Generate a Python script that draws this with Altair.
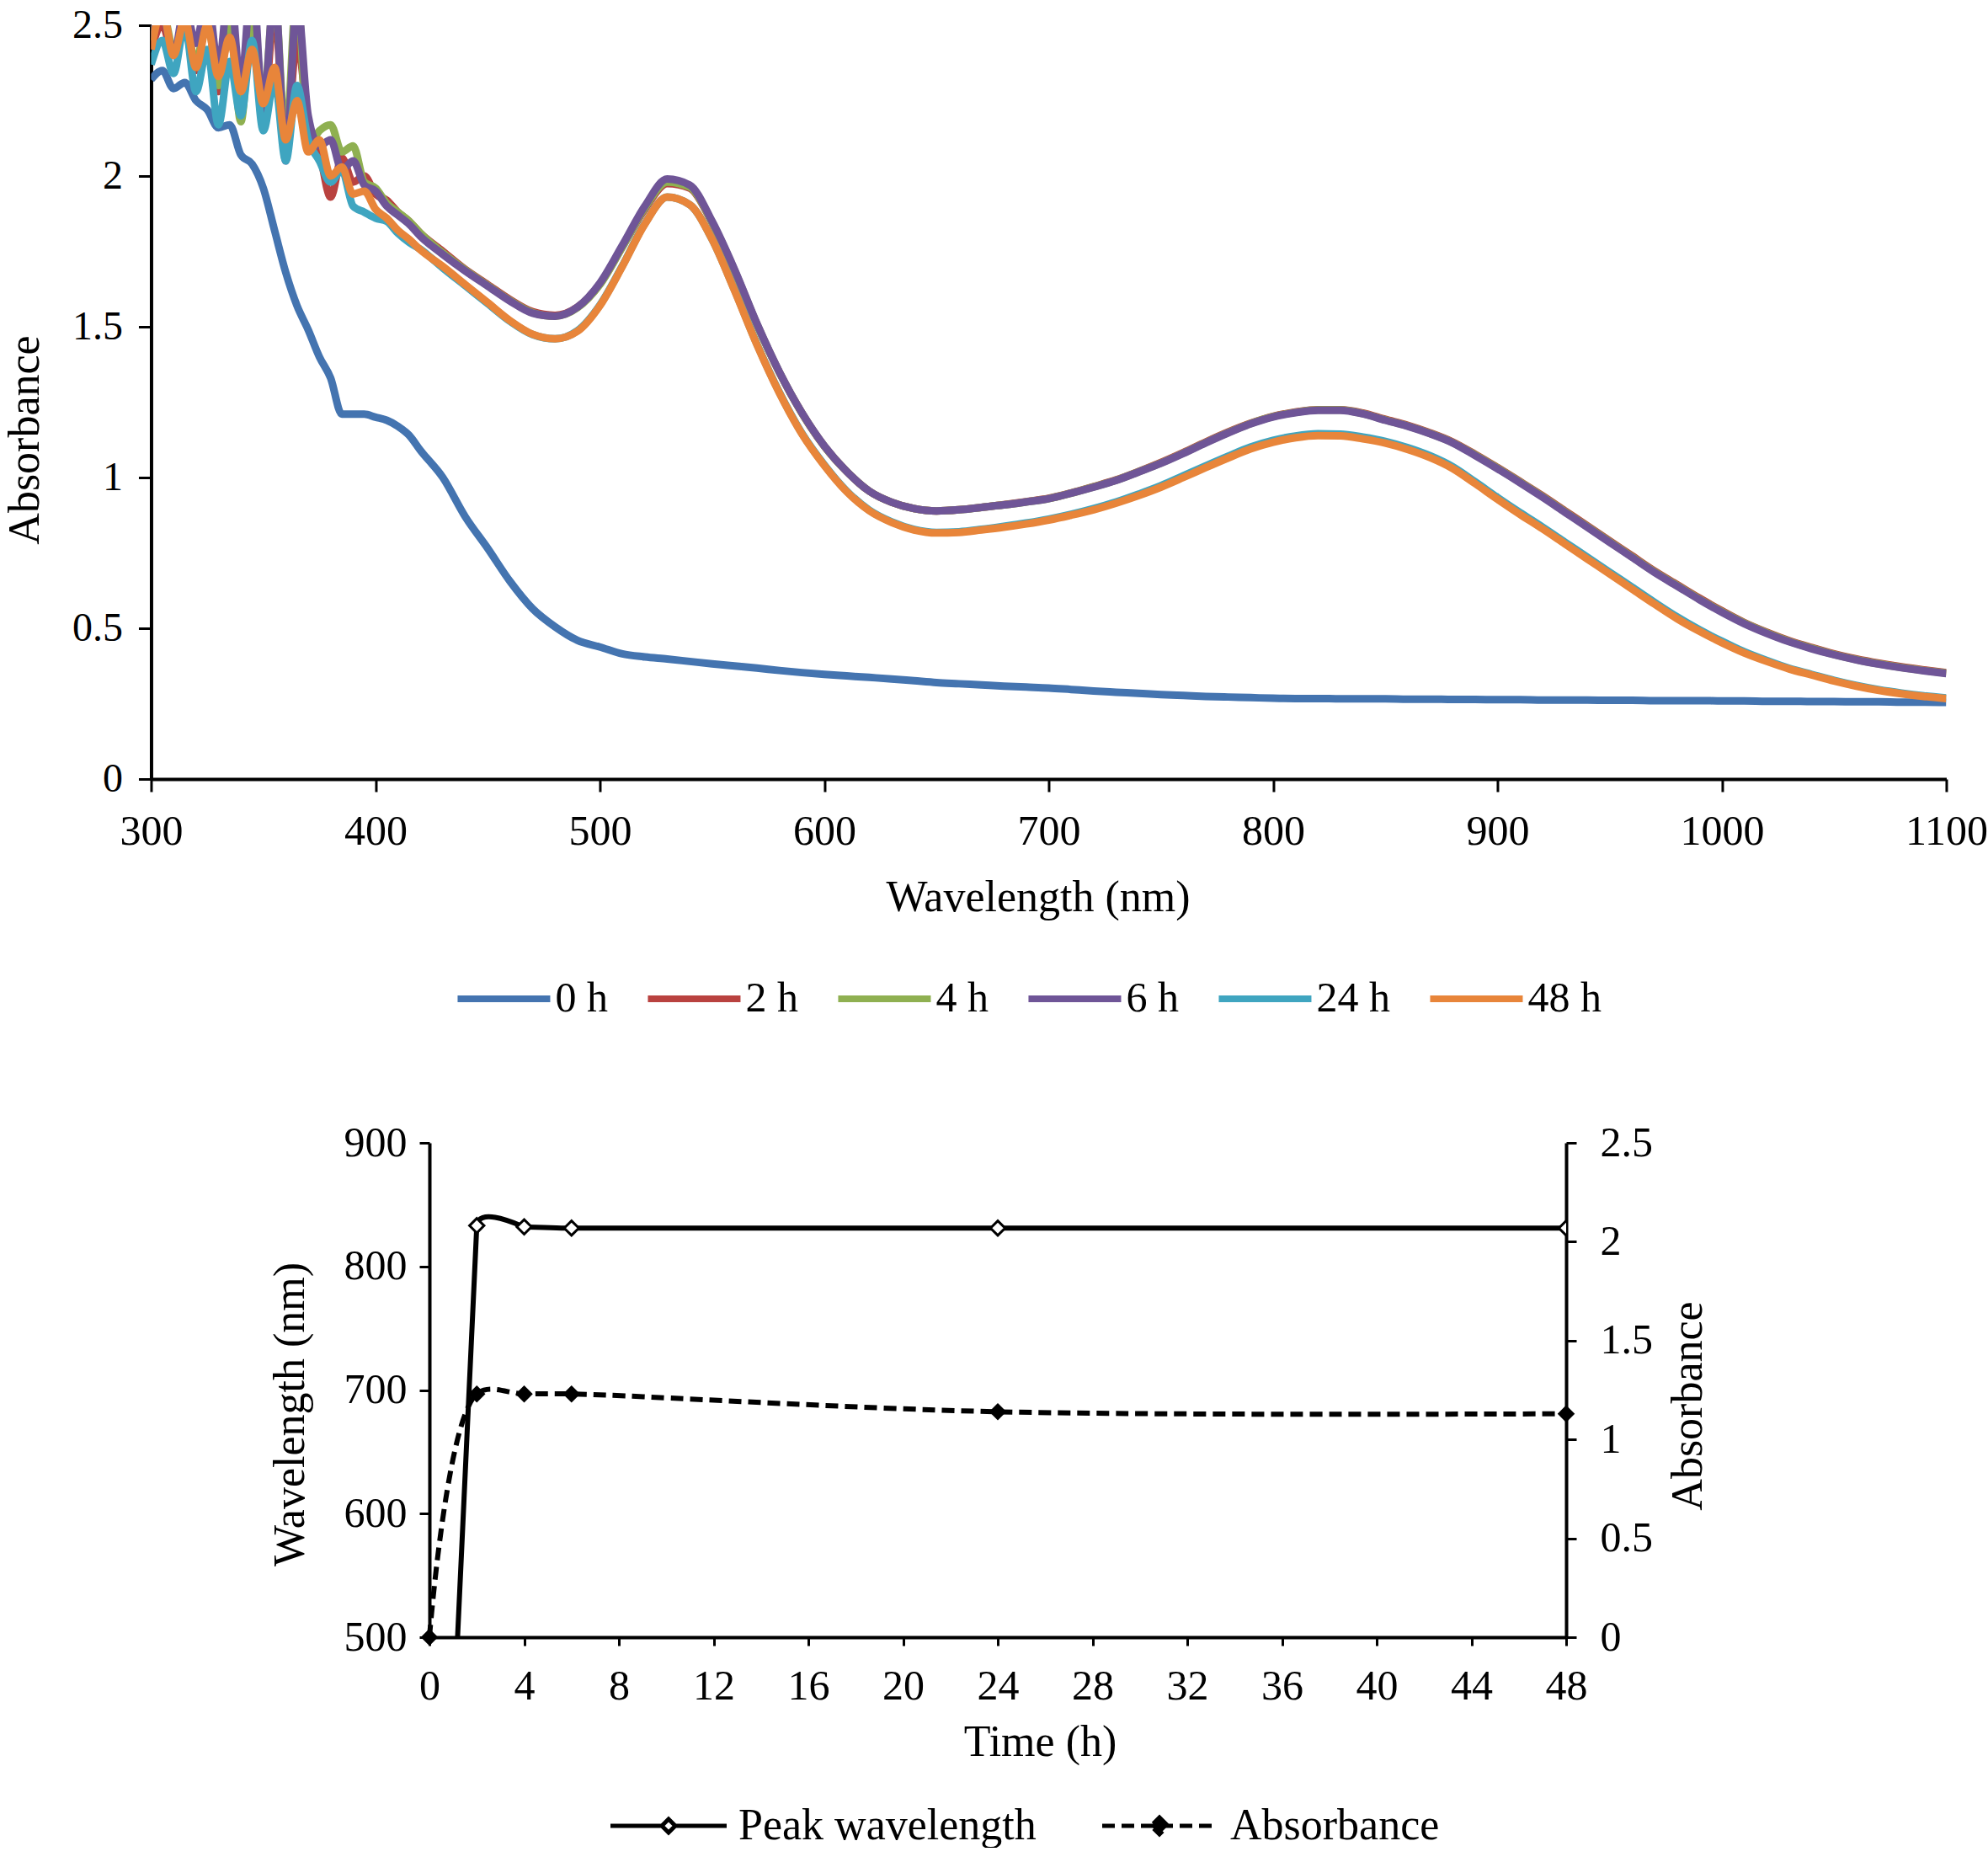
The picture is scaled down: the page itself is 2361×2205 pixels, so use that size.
import altair as alt
import pandas as pd

FONT = "Liberation Serif"

# ---------------- top panel: UV-vis-NIR spectra ----------------
WAVELENGTH = [300, 305, 310, 315, 320, 325, 330, 335, 340, 345, 350, 355, 360, 365, 370, 375,
              380, 385, 390, 395, 400, 405, 410, 415,
              420, 430, 440, 450, 460, 470, 480, 490, 500, 510, 520, 530, 540, 550, 560, 570,
              580, 590, 600, 610, 620, 630, 640, 650, 660, 670, 680, 690, 700, 710, 720, 730,
              740, 750, 760, 770, 780, 790, 800, 810, 820, 830, 840, 850, 860, 870, 880, 890,
              900, 910, 920, 930, 940, 950, 960, 970, 980, 990, 1000, 1010, 1020, 1030, 1040,
              1050, 1060, 1070, 1080, 1090, 1100]

ABS_0H = [2.32, 2.35, 2.29, 2.31, 2.25, 2.22, 2.16, 2.17, 2.07, 2.04, 1.96, 1.82, 1.68, 1.57, 1.49, 1.40,
          1.33, 1.21, 1.21, 1.21, 1.20, 1.19, 1.17, 1.14,
          1.09, 1.00, 0.87, 0.765, 0.655, 0.565, 0.505, 0.46, 0.438, 0.415, 0.405, 0.398, 0.39, 0.382, 0.375, 0.368,
          0.36, 0.353, 0.347, 0.342, 0.337, 0.332, 0.326, 0.32, 0.316, 0.312, 0.308, 0.305, 0.302, 0.297, 0.292, 0.288,
          0.284, 0.28, 0.277, 0.274, 0.272, 0.27, 0.268, 0.267, 0.267, 0.266, 0.266, 0.266, 0.265, 0.265, 0.264, 0.264,
          0.263, 0.263, 0.262, 0.262, 0.262, 0.261, 0.261, 0.26, 0.26, 0.26, 0.259, 0.259, 0.258, 0.258, 0.257,
          0.257, 0.256, 0.256, 0.255, 0.255, 0.254]

ABS_2H = [2.42, 2.50, 2.40, 2.52, 2.35, 2.55, 2.28, 2.58, 2.25, 2.60, 2.20, 2.55, 2.10, 2.45, 2.18, 2.08,
          1.93, 2.06, 1.98, 2.00, 1.94, 1.92, 1.88, 1.85,
          1.81, 1.75, 1.69, 1.64, 1.59, 1.55, 1.538, 1.565, 1.642, 1.765, 1.89, 1.975, 1.96, 1.845, 1.685, 1.507,
          1.348, 1.214, 1.104, 1.02, 0.955, 0.918, 0.897, 0.889, 0.893, 0.901, 0.91, 0.92, 0.931, 0.949, 0.97, 0.992,
          1.02, 1.05, 1.083, 1.118, 1.151, 1.18, 1.203, 1.217, 1.225, 1.225, 1.214, 1.193, 1.173, 1.148, 1.118, 1.077,
          1.033, 0.987, 0.94, 0.89, 0.84, 0.79, 0.74, 0.69, 0.645, 0.6, 0.558, 0.519, 0.487, 0.459, 0.436,
          0.415, 0.398, 0.384, 0.372, 0.362, 0.353]

ABS_4H = [2.45, 2.55, 2.42, 2.50, 2.38, 2.52, 2.30, 2.50, 2.18, 2.55, 2.25, 2.60, 2.12, 2.62, 2.10, 2.15,
          2.17, 2.08, 2.10, 1.98, 1.96, 1.91, 1.88, 1.85,
          1.81, 1.745, 1.688, 1.637, 1.587, 1.547, 1.535, 1.563, 1.64, 1.765, 1.895, 1.98, 1.963, 1.847, 1.687, 1.508,
          1.349, 1.214, 1.104, 1.02, 0.955, 0.918, 0.897, 0.889, 0.893, 0.901, 0.909, 0.919, 0.93, 0.948, 0.969, 0.991,
          1.019, 1.048, 1.081, 1.116, 1.149, 1.179, 1.202, 1.216, 1.224, 1.224, 1.212, 1.191, 1.171, 1.146, 1.116, 1.075,
          1.031, 0.985, 0.937, 0.887, 0.837, 0.787, 0.737, 0.687, 0.642, 0.597, 0.555, 0.517, 0.485, 0.457, 0.434,
          0.413, 0.396, 0.382, 0.37, 0.36, 0.351]

ABS_6H = [2.46, 2.54, 2.40, 2.56, 2.44, 2.60, 2.36, 2.64, 2.30, 2.66, 2.22, 2.62, 2.05, 2.58, 2.20, 2.10,
          2.12, 2.02, 2.05, 1.97, 1.95, 1.90, 1.87, 1.84,
          1.80, 1.74, 1.685, 1.635, 1.585, 1.545, 1.535, 1.565, 1.645, 1.77, 1.90, 1.99, 1.97, 1.85, 1.69, 1.51,
          1.35, 1.215, 1.105, 1.02, 0.955, 0.918, 0.897, 0.889, 0.893, 0.901, 0.909, 0.919, 0.93, 0.948, 0.968, 0.99,
          1.018, 1.047, 1.08, 1.115, 1.148, 1.178, 1.201, 1.215, 1.223, 1.223, 1.211, 1.19, 1.17, 1.145, 1.115, 1.073,
          1.029, 0.983, 0.935, 0.885, 0.835, 0.785, 0.735, 0.685, 0.64, 0.595, 0.553, 0.515, 0.483, 0.455, 0.432,
          0.412, 0.395, 0.381, 0.369, 0.359, 0.35]

ABS_24H = [2.37, 2.45, 2.34, 2.50, 2.28, 2.42, 2.17, 2.38, 2.20, 2.45, 2.15, 2.32, 2.05, 2.30, 2.12, 2.05,
           1.98, 2.02, 1.90, 1.88, 1.86, 1.85, 1.81, 1.78,
           1.757, 1.695, 1.636, 1.577, 1.518, 1.474, 1.46, 1.487, 1.572, 1.702, 1.842, 1.93, 1.905, 1.79, 1.622, 1.442,
           1.282, 1.147, 1.042, 0.955, 0.892, 0.853, 0.828, 0.818, 0.82, 0.828, 0.838, 0.849, 0.862, 0.878, 0.897, 0.919,
           0.945, 0.973, 1.006, 1.039, 1.071, 1.101, 1.123, 1.138, 1.145, 1.144, 1.134, 1.12, 1.099, 1.072, 1.036, 0.986,
           0.934, 0.884, 0.836, 0.786, 0.736, 0.686, 0.636, 0.586, 0.538, 0.495, 0.457, 0.422, 0.393, 0.367, 0.347,
           0.327, 0.31, 0.296, 0.285, 0.276, 0.269]

ABS_48H = [2.42, 2.55, 2.40, 2.52, 2.36, 2.50, 2.33, 2.46, 2.28, 2.42, 2.24, 2.36, 2.12, 2.25, 2.08, 2.12,
           2.00, 2.03, 1.94, 1.95, 1.89, 1.86, 1.82, 1.79,
           1.755, 1.70, 1.64, 1.58, 1.52, 1.475, 1.46, 1.485, 1.57, 1.70, 1.84, 1.93, 1.905, 1.79, 1.62, 1.44,
           1.28, 1.145, 1.04, 0.953, 0.89, 0.851, 0.826, 0.816, 0.818, 0.826, 0.835, 0.846, 0.859, 0.875, 0.893, 0.915,
           0.94, 0.968, 1.0, 1.033, 1.065, 1.095, 1.117, 1.132, 1.139, 1.138, 1.128, 1.114, 1.093, 1.066, 1.03, 0.98,
           0.928, 0.878, 0.83, 0.78, 0.73, 0.68, 0.63, 0.58, 0.532, 0.49, 0.452, 0.418, 0.39, 0.365, 0.345,
           0.325, 0.308, 0.294, 0.283, 0.274, 0.267]

SERIES_NAMES = ["0 h", "2 h", "4 h", "6 h", "24 h", "48 h"]
SERIES_COLORS = ["#4474B0", "#B9423F", "#8FB051", "#6F5597", "#3FA5C0", "#E8853A"]
SERIES_VALUES = [ABS_0H, ABS_2H, ABS_4H, ABS_6H, ABS_24H, ABS_48H]

TOP_X_TICKS = [300, 400, 500, 600, 700, 800, 900, 1000, 1100]
TOP_Y_TICKS = [0, 0.5, 1, 1.5, 2, 2.5]

# ---------------- bottom panel: kinetics ----------------
TIME_H = [0, 2, 4, 6, 24, 48]
PEAK_NM = [0, 833, 832, 831, 831, 831]
PEAK_ABS = [0, 1.23, 1.23, 1.23, 1.14, 1.13]

BOT_X_TICKS = [0, 4, 8, 12, 16, 20, 24, 28, 32, 36, 40, 44, 48]
BOT_YL_TICKS = [500, 600, 700, 800, 900]
BOT_YR_TICKS = [0, 0.5, 1, 1.5, 2, 2.5]

for vals in SERIES_VALUES:
    assert len(vals) == len(WAVELENGTH), len(vals)

rows = []
for name, vals in zip(SERIES_NAMES, SERIES_VALUES):
    for w, a in zip(WAVELENGTH, vals):
        rows.append({"wl": w, "A": a, "series": name})
spec_df = pd.DataFrame(rows)

axis_common = dict(domainColor="black", tickColor="black", labelColor="black", titleColor="black",
                   labelFont=FONT, titleFont=FONT, titleFontWeight="normal", grid=False,
                   labelOverlap=False, labelFlush=False)

x_top = alt.X("wl:Q", scale=alt.Scale(domain=[300, 1100], nice=False, zero=False),
              axis=alt.Axis(values=TOP_X_TICKS, format="d", title="Wavelength (nm)",
                            labelFontSize=50, titleFontSize=52, tickSize=15, tickWidth=3,
                            domainWidth=4, labelPadding=22, titleX=1053, titleY=156,
                            titleBaseline="alphabetic", titleAlign="center", **axis_common))
y_top = alt.Y("A:Q", scale=alt.Scale(domain=[0, 2.5], nice=False),
              axis=alt.Axis(values=TOP_Y_TICKS, format="~g", title="Absorbance",
                            labelFontSize=48, titleFontSize=52, tickSize=15, tickWidth=3,
                            domainWidth=4, labelPadding=19, titleX=-134, titleY=492, titleAngle=270,
                            titleBaseline="alphabetic", titleAlign="center", **axis_common))

color_scale = alt.Scale(domain=SERIES_NAMES, range=SERIES_COLORS)
top_legend = alt.Legend(title=None, orient="none", direction="horizontal", columns=6,
                        legendX=360, legendY=1097, symbolType="stroke", symbolSize=12100,
                        symbolStrokeWidth=8, labelFont=FONT, labelFontSize=50, labelColor="black",
                        labelOffset=2, columnPadding=31, padding=0, labelLimit=0)

base = alt.Chart(spec_df)
top_layers = []
for name in SERIES_NAMES:
    top_layers.append(
        base.transform_filter(alt.datum.series == name)
        .mark_line(clip=True, strokeWidth=9, interpolate="monotone", strokeJoin="round")
        .encode(x=x_top, y=y_top,
                color=alt.Color("series:N", scale=color_scale, legend=top_legend))
    )
top = alt.layer(*top_layers).properties(width=2132, height=895)

bot_df = pd.DataFrame({"t": TIME_H, "peak": PEAK_NM, "absb": PEAK_ABS})
bot_df["s1"] = "Peak wavelength"
bot_df["s2"] = "Absorbance"

x_bot = alt.X("t:Q", scale=alt.Scale(domain=[0, 48], nice=False),
              axis=alt.Axis(values=BOT_X_TICKS, title="Time (h)", labelFontSize=50, titleFontSize=52,
                            tickSize=10, tickWidth=3, domainWidth=4, labelPadding=23,
                            titleX=725, titleY=140, titleBaseline="alphabetic", titleAlign="center",
                            **axis_common))
yl_axis = alt.Axis(values=BOT_YL_TICKS, title="Wavelength (nm)", labelFontSize=50, titleFontSize=52,
                   tickSize=12, tickWidth=3, domainWidth=4, labelPadding=15, titleX=-150, titleY=322,
                   titleAngle=270, titleBaseline="alphabetic", titleAlign="center", **axis_common)
yr_axis = alt.Axis(values=BOT_YR_TICKS, format="~g", orient="right", title="Absorbance",
                   labelFontSize=50, titleFontSize=52, tickSize=12, tickWidth=3, domainWidth=4,
                   labelPadding=28, titleX=160, titleY=312, titleAngle=270,
                   titleBaseline="alphabetic", titleAlign="center", **axis_common)
yl = alt.Y("peak:Q", scale=alt.Scale(domain=[500, 900], nice=False, zero=False), axis=yl_axis)
yr = alt.Y("absb:Q", scale=alt.Scale(domain=[0, 2.5], nice=False), axis=yr_axis)

PATH_A = "M-3.45,0L-0.4,0M0.4,0L3.45,0M0,-0.4L0.4,0L0,0.4L-0.4,0Z"
PATH_B = "M-3.4,0L3.4,0M0,-0.5L0.5,0L0,0.5L-0.5,0Z"

leg_a = alt.Legend(title=None, orient="none", legendX=258, legendY=785, symbolType=PATH_A,
                   symbolSize=1600, symbolStrokeWidth=5, symbolFillColor="white",
                   labelFont=FONT, labelFontSize=52, labelColor="black", labelOffset=57, padding=0,
                   labelLimit=0)
leg_b = alt.Legend(title=None, orient="none", legendX=841, legendY=785, symbolType=PATH_B,
                   symbolSize=1600, symbolStrokeWidth=5, symbolFillColor="black",
                   symbolStrokeColor="black",
                   labelFont=FONT, labelFontSize=52, labelColor="black", labelOffset=58, padding=0,
                   labelLimit=0)

bchart = alt.Chart(bot_df)
peak_line = bchart.mark_line(clip=True, strokeWidth=6, interpolate="cardinal", tension=0.88).encode(
    x=x_bot, y=yl,
    color=alt.Color("s1:N", scale=alt.Scale(domain=["Peak wavelength"], range=["black"]), legend=leg_a))
peak_pts = bchart.mark_point(clip=True, shape="diamond", filled=True, fill="white", stroke="black",
                             strokeWidth=3, size=300, opacity=1).encode(x=x_bot, y=yl)
abs_line = bchart.mark_line(color="black", strokeWidth=6, interpolate="catmull-rom").encode(
    x=x_bot, y=yr,
    strokeDash=alt.StrokeDash("s2:N", scale=alt.Scale(domain=["Absorbance"], range=[[15, 8]]),
                              legend=leg_b))
abs_pts = bchart.mark_point(shape="diamond", filled=True, color="black", size=420,
                            opacity=1).encode(x=x_bot, y=yr)

bottom = alt.layer(alt.layer(peak_line, peak_pts), alt.layer(abs_line, abs_pts)).resolve_scale(
    y="independent").properties(width=1350, height=587)

chart = alt.vconcat(top, bottom, spacing=121, center=True).resolve_scale(
    color="independent", strokeDash="independent"
).resolve_legend(
    color="independent", strokeDash="independent"
).properties(
    padding={"left": 3, "top": 6, "right": 0, "bottom": 0},
    background="white",
).configure_view(stroke=None)

chart.save("out.html", embed_options={"renderer": "svg", "actions": False})
